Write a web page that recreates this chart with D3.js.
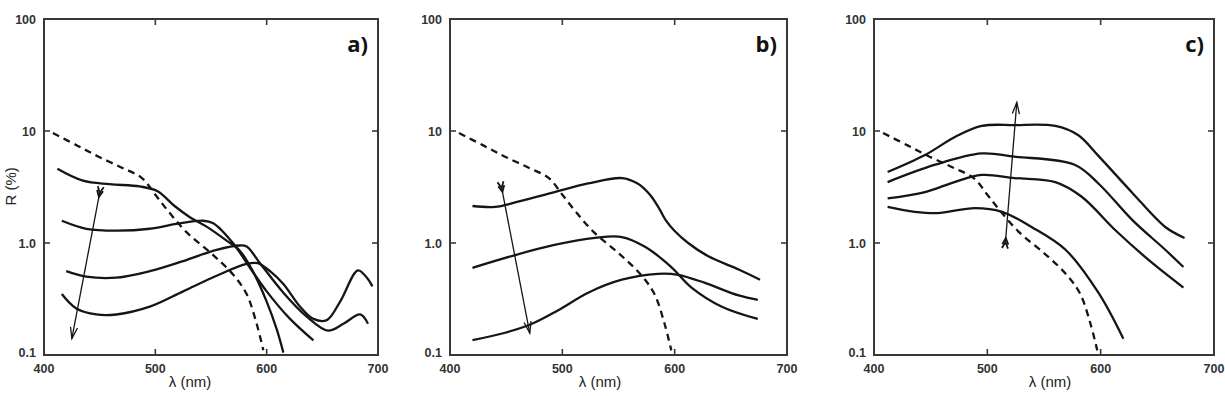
<!DOCTYPE html>
<html>
<head>
<meta charset="utf-8">
<script src="https://cdn.jsdelivr.net/npm/d3@7"></script>
<style>
  body { margin: 0; background: #fff; }
</style>
</head>
<body>
<svg id="chart" width="1225" height="396"></svg>
<script>
// wavelength (nm), reflectance (%)
const dashed = [[408, 9.6], [430, 7.4], [449, 5.9], [470, 4.7], [488, 3.8], [500, 2.7], [512, 1.9],
  [528, 1.25], [552, 0.78], [570, 0.52], [582, 0.35], [591, 0.19], [597, 0.11]];

const curvesA = [
  [[412, 4.6], [435, 3.6], [459, 3.35], [486, 3.2], [502, 2.9], [517, 2.15], [531, 1.7], [546, 1.4],
    [564, 1.05], [576, 0.85], [588, 0.55], [600, 0.3], [609, 0.17], [615, 0.105]],
  [[416, 1.58], [438, 1.34], [465, 1.29], [495, 1.34], [519, 1.48], [543, 1.58], [552, 1.5], [570, 0.99],
    [585, 0.6], [600, 0.37], [621, 0.21], [642, 0.135]],
  [[420, 0.56], [438, 0.5], [465, 0.49], [495, 0.56], [525, 0.69], [555, 0.87], [576, 0.95], [582, 0.93],
    [594, 0.66], [615, 0.36], [636, 0.22], [655, 0.165], [669, 0.19], [684, 0.23], [691, 0.19]],
  [[416, 0.35], [429, 0.26], [447, 0.23], [465, 0.23], [495, 0.27], [525, 0.37], [555, 0.51], [582, 0.65],
    [592, 0.66], [603, 0.56], [615, 0.43], [630, 0.27], [642, 0.21], [654, 0.205], [666, 0.3], [682, 0.57],
    [690, 0.49], [695, 0.41]]
];

const curvesB = [
  [[420, 2.14], [440, 2.1], [458, 2.3], [493, 2.85], [523, 3.4], [553, 3.8], [567, 3.4], [578, 2.7],
    [586, 2.05], [592, 1.6], [600, 1.28], [612, 1.0], [630, 0.76], [657, 0.58], [676, 0.47]],
  [[420, 0.6], [458, 0.78], [493, 0.96], [529, 1.11], [553, 1.13], [574, 0.92], [597, 0.61], [615, 0.4],
    [642, 0.27], [674, 0.21]],
  [[420, 0.136], [449, 0.158], [473, 0.19], [496, 0.25], [523, 0.36], [553, 0.47], [585, 0.53], [603, 0.52],
    [627, 0.44], [657, 0.34], [674, 0.31]]
];

const curvesC = [
  [[412, 4.3], [445, 6.1], [471, 8.8], [495, 11.1], [524, 11.3], [560, 11.1], [580, 9.2], [598, 6.0],
    [628, 2.8], [657, 1.39], [674, 1.11]],
  [[412, 3.5], [454, 5.0], [495, 6.3], [524, 5.9], [577, 5.0], [598, 3.4], [628, 1.6], [657, 0.87], [673, 0.61]],
  [[412, 2.5], [445, 2.85], [471, 3.5], [495, 4.05], [524, 3.8], [560, 3.5], [583, 2.6], [613, 1.3],
    [642, 0.71], [673, 0.4]],
  [[412, 2.1], [436, 1.9], [456, 1.85], [489, 2.05], [513, 1.9], [539, 1.39], [569, 0.87], [598, 0.36], [620, 0.14]]
];

// [tail, head]
const arrowA = [[450, 2.8], [425, 0.14]];
const arrowB = [[446, 3.1], [471, 0.157]];
const arrowC = [[516, 1.02], [526, 18]];

const xTicks = [500, 600];
const xLabels = [400, 500, 600, 700];
const yTicks = [1, 10];
const yLabels = [[100, "100"], [10, "10"], [1, "1.0"], [0.1, "0.1"]];

const panels = [
  { left: 44, right: 378, name: "a)", curves: curvesA, arrow: arrowA, xlab: 190, ylab: true },
  { left: 450, right: 787, name: "b)", curves: curvesB, arrow: arrowB, xlab: 600, ylab: false },
  { left: 874, right: 1214, name: "c)", curves: curvesC, arrow: arrowC, xlab: 1050, ylab: false }
];

const plotTop = 19, plotBottom = 355;
const svg = d3.select("#chart");
const ink = "#151515";
const tickFont = "bold 12.5px 'Liberation Sans', Arial, sans-serif";

panels.forEach((p) => {
  const x = d3.scaleLinear().domain([400, 700]).range([p.left, p.right]);
  const y = d3.scaleLog().domain([0.1, 100]).range([plotBottom, plotTop]);
  const g = svg.append("g");

  const line = d3.line()
    .x((d) => x(d[0]))
    .y((d) => y(d[1]))
    .curve(d3.curveCatmullRom.alpha(0.5));

  // frame
  g.append("rect")
    .attr("x", p.left).attr("y", plotTop)
    .attr("width", p.right - p.left).attr("height", plotBottom - plotTop)
    .attr("fill", "none").attr("stroke", "#383838").attr("stroke-width", 2);

  // inward ticks on all sides
  xTicks.forEach((t) => {
    g.append("line").attr("x1", x(t)).attr("x2", x(t)).attr("y1", plotBottom).attr("y2", plotBottom - 6)
      .attr("stroke", "#383838").attr("stroke-width", 1.6);
    g.append("line").attr("x1", x(t)).attr("x2", x(t)).attr("y1", plotTop).attr("y2", plotTop + 6)
      .attr("stroke", "#383838").attr("stroke-width", 1.6);
  });
  yTicks.forEach((t) => {
    g.append("line").attr("x1", p.left).attr("x2", p.left + 6).attr("y1", y(t)).attr("y2", y(t))
      .attr("stroke", "#383838").attr("stroke-width", 1.6);
    g.append("line").attr("x1", p.right).attr("x2", p.right - 6).attr("y1", y(t)).attr("y2", y(t))
      .attr("stroke", "#383838").attr("stroke-width", 1.6);
  });

  // tick labels
  g.selectAll(".xl").data(xLabels).enter().append("text")
    .attr("x", (d) => x(d)).attr("y", 373)
    .attr("text-anchor", "middle")
    .style("font", tickFont)
    .attr("fill", "#333")
    .text((d) => d);
  g.selectAll(".yl").data(yLabels).enter().append("text")
    .attr("x", p.left - 8).attr("y", (d) => (d[0] === 0.1 ? y(d[0]) - 3 : y(d[0])) + 4.5)
    .attr("text-anchor", "end")
    .style("font", tickFont)
    .attr("fill", "#333")
    .text((d) => d[1]);

  g.append("text")
    .attr("x", p.xlab).attr("y", 387)
    .attr("text-anchor", "middle")
    .style("font", "15px 'Liberation Sans', Arial, sans-serif")
    .attr("fill", "#222")
    .text("λ (nm)");

  if (p.ylab) {
    g.append("text")
      .attr("transform", `translate(${p.left - 28},${y(3.2)}) rotate(-90)`)
      .attr("text-anchor", "middle")
      .style("font", "15px 'Liberation Sans', Arial, sans-serif")
      .attr("fill", "#222")
      .text("R (%)");
  }

  g.append("text")
    .attr("x", p.right - 10).attr("y", 52)
    .attr("text-anchor", "end")
    .style("font", "bold 22px 'Open Sans', sans-serif")
    .attr("fill", "#111")
    .text(p.name);

  // dashed reference curve
  g.append("path")
    .attr("d", line(dashed))
    .attr("fill", "none").attr("stroke", ink)
    .attr("stroke-width", 2.3).attr("stroke-dasharray", "7,5");

  g.selectAll(".curve").data(p.curves).enter().append("path")
    .attr("d", line)
    .attr("fill", "none").attr("stroke", ink)
    .attr("stroke-width", 2.3).attr("stroke-linejoin", "round");

  // arrow: thin shaft, open head, small fletching at the tail
  const [t0, h0] = p.arrow;
  const tx = x(t0[0]), ty = y(t0[1]), hx = x(h0[0]), hy = y(h0[1]);
  const ang = Math.atan2(hy - ty, hx - tx);
  g.append("line").attr("x1", tx).attr("y1", ty).attr("x2", hx).attr("y2", hy)
    .attr("stroke", ink).attr("stroke-width", 1.3);
  const head = [ang + Math.PI - 0.3, ang + Math.PI + 0.3].map((a) =>
    [hx + 12 * Math.cos(a), hy + 12 * Math.sin(a)]);
  g.append("path")
    .attr("d", `M${head[0]}L${hx},${hy}L${head[1]}`)
    .attr("fill", "none").attr("stroke", ink).attr("stroke-width", 1.3);
  [0, 4].forEach((off) => {
    const bx = tx + off * Math.cos(ang), by = ty + off * Math.sin(ang);
    const barbs = [ang + Math.PI - 0.45, ang + Math.PI + 0.45].map((a) =>
      [bx + 7 * Math.cos(a), by + 7 * Math.sin(a)]);
    g.append("path")
      .attr("d", `M${barbs[0]}L${bx},${by}L${barbs[1]}`)
      .attr("fill", "none").attr("stroke", ink).attr("stroke-width", 1.8);
  });
});
</script>
</body>
</html>
